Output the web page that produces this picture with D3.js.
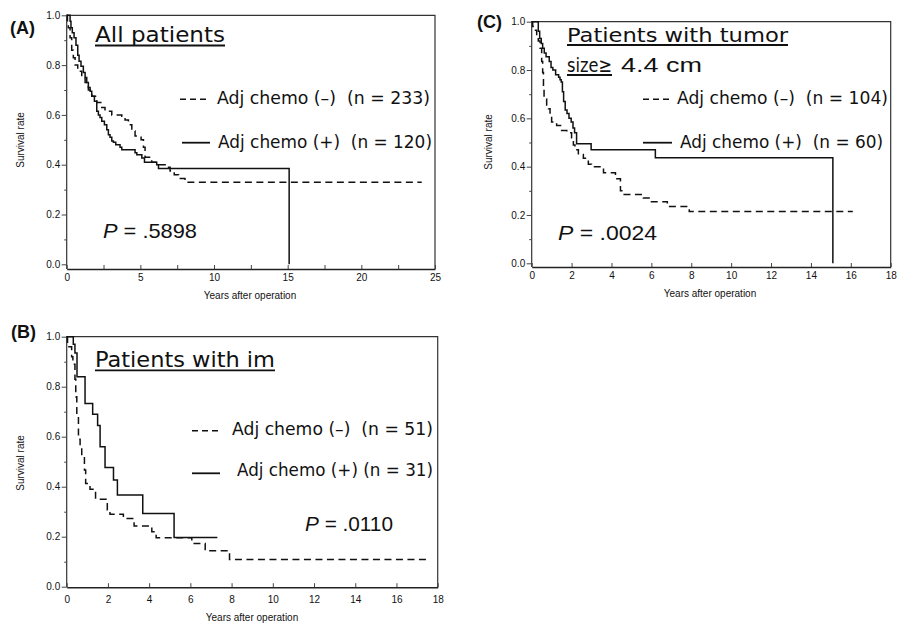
<!DOCTYPE html>
<html>
<head>
<meta charset="utf-8">
<script src="https://cdn.jsdelivr.net/npm/d3@7"></script>
<style>
  body { margin: 0; background: #fff; }
  text { font-family: "Liberation Sans", Arial, sans-serif; fill: #111; }
  .comic { font-family: "Comic Sans MS", "DejaVu Sans", sans-serif; }
</style>
</head>
<body>
<svg id="chart" width="904" height="623"></svg>
<script>
// ---- data (years, survival) ----
// (A) all patients
const aNegTime = [0, 0.05, 0.11, 0.23, 0.34, 0.45, 0.57, 0.75, 1.02, 1.25, 1.47, 1.7, 2.04, 2.38, 2.6, 3.06, 3.74, 3.96, 4.19, 4.42, 4.64, 5.05, 5.21, 5.32, 5.77, 6.23, 6.68, 7.02, 7.3, 7.6, 8.03, 24.1];
const aNegSurv = [1.0, 0.97, 0.95, 0.91, 0.86, 0.83, 0.80, 0.775, 0.75, 0.73, 0.70, 0.675, 0.65, 0.63, 0.615, 0.60, 0.595, 0.58, 0.56, 0.535, 0.515, 0.50, 0.47, 0.43, 0.41, 0.40, 0.39, 0.375, 0.36, 0.345, 0.33, 0.33];
const aPosTime = [0, 0.23, 0.29, 0.38, 0.5, 0.63, 0.75, 0.84, 0.97, 1.13, 1.25, 1.36, 1.47, 1.59, 1.7, 1.88, 2.04, 2.15, 2.26, 2.38, 2.56, 2.72, 2.83, 2.94, 3.06, 3.17, 3.33, 3.62, 3.74, 4.64, 4.76, 5.1, 5.28, 6.11, 6.23, 15.1];
const aPosSurv = [1.0, 0.976, 0.95, 0.93, 0.91, 0.88, 0.84, 0.815, 0.795, 0.77, 0.75, 0.73, 0.71, 0.695, 0.675, 0.655, 0.615, 0.60, 0.59, 0.575, 0.56, 0.54, 0.52, 0.51, 0.495, 0.49, 0.48, 0.47, 0.46, 0.448, 0.44, 0.427, 0.41, 0.40, 0.385, 0.0];

// (B) patients with im
const bNegTime = [0, 0.04, 0.24, 0.3, 0.4, 0.44, 0.49, 0.57, 0.65, 0.73, 0.86, 0.92, 1.13, 1.4, 1.97, 2.1, 2.75, 3.27, 4.13, 4.34, 6.07, 6.72, 7.9, 17.5];
const bNegSurv = [1.0, 0.96, 0.92, 0.89, 0.83, 0.76, 0.69, 0.59, 0.56, 0.52, 0.467, 0.413, 0.39, 0.35, 0.307, 0.29, 0.273, 0.243, 0.22, 0.196, 0.173, 0.144, 0.109, 0.109];
const bPosTime = [0, 0.32, 0.4, 0.5, 0.89, 1.26, 1.5, 1.62, 1.86, 2.27, 2.46, 3.69, 5.21, 7.31];
const bPosSurv = [1.0, 0.97, 0.935, 0.84, 0.733, 0.69, 0.645, 0.56, 0.477, 0.427, 0.367, 0.293, 0.197, 0.197];

// (C) tumor size >= 4.4 cm
const cNegTime = [0, 0.05, 0.12, 0.25, 0.33, 0.42, 0.5, 0.55, 0.59, 0.62, 0.75, 0.84, 0.92, 1.0, 1.25, 1.5, 1.76, 2.0, 2.09, 2.17, 2.34, 2.59, 2.84, 3.0, 3.6, 4.2, 4.45, 4.6, 5.6, 5.95, 6.8, 7.9, 16.1];
const cNegSurv = [1.0, 0.98, 0.965, 0.94, 0.92, 0.89, 0.835, 0.79, 0.72, 0.68, 0.655, 0.64, 0.615, 0.585, 0.57, 0.55, 0.54, 0.52, 0.49, 0.47, 0.45, 0.435, 0.41, 0.40, 0.375, 0.35, 0.30, 0.285, 0.27, 0.255, 0.235, 0.214, 0.214];
const cPosTime = [0, 0.33, 0.4, 0.48, 0.55, 0.63, 0.72, 0.88, 0.97, 1.06, 1.2, 1.35, 1.42, 1.48, 1.54, 1.6, 1.68, 1.77, 1.87, 1.98, 2.07, 2.15, 2.25, 2.98, 6.2, 15.1];
const cPosSurv = [1.0, 0.96, 0.93, 0.91, 0.89, 0.87, 0.855, 0.835, 0.81, 0.80, 0.78, 0.77, 0.76, 0.75, 0.71, 0.67, 0.635, 0.62, 0.60, 0.585, 0.56, 0.54, 0.495, 0.47, 0.437, 0.0];

// ticks
const yMajorTicks = [0, 0.2, 0.4, 0.6, 0.8, 1.0];
const yMinorTicks = [0.1, 0.3, 0.5, 0.7, 0.9];
const xTicksA = [0, 2.5, 5, 7.5, 10, 12.5, 15, 17.5, 20, 22.5, 25];
const xLabelsA = [0, 5, 10, 15, 20, 25];
const xTicks18 = [0, 2, 4, 6, 8, 10, 12, 14, 16, 18];

// text
const negLegend = ["Adj chemo (–)  (n = 233)", "Adj chemo (–)  (n = 51)", "Adj chemo (–)  (n = 104)"];
const posLegend = ["Adj chemo (+)  (n = 120)", "Adj chemo (+) (n = 31)", "Adj chemo (+)  (n = 60)"];
const pValues = [".5898", ".0110", ".0024"];

const svg = d3.select("#chart");

const panels = [
  { tag: "(A)", tagPos: [10, 34], negT: aNegTime, negS: aNegSurv, posT: aPosTime, posS: aPosSurv,
    left: 66.7, right: 435, top: 15.3, bottom: 264.3, axisY: 269, xMax: 25,
    xTicks: xTicksA, xLabels: xLabelsA, labelPad: 5, titleSize: 22,
    title: [{ t: "All patients", x: 95, y: 42, w: 130, u: 45.5 }],
    leg: { neg: negLegend[0], pos: posLegend[0], l1: [180, 210, 99.3], t1: [217, 104, 213], l2: [182, 210, 142.7], t2: [218, 148.3, 214] },
    p: { v: pValues[0], x: 103, y: 238, w: 94 }, yl: [20, 140], xl: [250, 298.5] },
  { tag: "(B)", tagPos: [11, 338], negT: bNegTime, negS: bNegSurv, posT: bPosTime, posS: bPosSurv,
    left: 66.7, right: 437.7, top: 336.7, bottom: 586.7, axisY: 587.2, xMax: 18,
    xTicks: xTicks18, xLabels: xTicks18, labelPad: 9, titleSize: 22,
    title: [{ t: "Patients with im", x: 95, y: 366.7, w: 180, u: 370.3 }],
    leg: { neg: negLegend[1], pos: posLegend[1], l1: [192, 220, 430.7], t1: [232, 435, 201], l2: [192, 220, 473.3], t2: [237, 475.7, 196] },
    p: { v: pValues[1], x: 305, y: 530.7, w: 88 }, yl: [20, 463], xl: [252, 621] },
  { tag: "(C)", tagPos: [477, 28], negT: cNegTime, negS: cNegSurv, posT: cPosTime, posS: cPosSurv,
    left: 531.7, right: 890.7, top: 21.7, bottom: 263.3, axisY: 267, xMax: 18,
    xTicks: xTicks18, xLabels: xTicks18, labelPad: 5, titleSize: 20,
    title: [{ t: "Patients with tumor", x: 567, y: 41.5, w: 221, u: 45 },
            { t: "size≥", x: 567, y: 71.7, w: 45, u: 75, extra: "4.4 cm", ex: 621, ew: 81 }],
    leg: { neg: negLegend[2], pos: posLegend[2], l1: [643, 672, 99.3], t1: [677, 104, 211], l2: [643, 672, 142.7], t2: [680, 148.3, 203] },
    p: { v: pValues[2], x: 558, y: 240, w: 99 }, yl: [488, 142], xl: [710, 296.5] }
];

panels.forEach(p => {
  const g = svg.append("g");
  const x = d3.scaleLinear().domain([0, p.xMax]).range([p.left, p.right]);
  const y = d3.scaleLinear().domain([0, 1]).range([p.bottom, p.top]);

  // frame
  g.append("path")
    .attr("d", `M${p.left},${p.axisY}V${p.top}H${p.right}V${p.axisY}`)
    .attr("fill", "none").attr("stroke", "#333").attr("stroke-width", 1.2);

  // y axis: labelled majors + short minors
  g.append("g").attr("transform", `translate(${p.left},0)`)
    .call(d3.axisLeft(y).tickValues(yMajorTicks).tickFormat(d3.format(".1f")).tickSize(5).tickSizeOuter(0).tickPadding(1.5))
    .call(a => a.select(".domain").remove())
    .call(a => a.selectAll("line").attr("stroke", "#444"))
    .call(a => a.selectAll("text").attr("font-size", 10).attr("font-family", "Liberation Sans, Arial, sans-serif"));
  g.append("g").attr("transform", `translate(${p.left},0)`)
    .call(d3.axisLeft(y).tickValues(yMinorTicks).tickFormat("").tickSize(2.5).tickSizeOuter(0))
    .call(a => a.select(".domain").remove())
    .call(a => a.selectAll("line").attr("stroke", "#444"));

  // x axis, ticks pointing up
  g.append("g").attr("transform", `translate(0,${p.axisY})`)
    .call(d3.axisBottom(x).tickValues(p.xTicks).tickFormat(d => p.xLabels.includes(d) ? d : "")
      .tickSize(-4).tickSizeOuter(0).tickPadding(p.labelPad))
    .call(a => a.select(".domain").attr("stroke", "#222").attr("stroke-width", 1.4))
    .call(a => a.selectAll("line").attr("stroke", "#444"))
    .call(a => a.selectAll("text").attr("font-size", 10).attr("font-family", "Liberation Sans, Arial, sans-serif"));

  // axis titles
  g.append("text").attr("transform", `translate(${p.yl[0]},${p.yl[1]}) rotate(-90)`)
    .attr("text-anchor", "middle").attr("dy", "0.35em").attr("font-size", 10).text("Survival rate");
  g.append("text").attr("x", p.xl[0]).attr("y", p.xl[1])
    .attr("text-anchor", "middle").attr("font-size", 10).text("Years after operation");

  // curves
  const line = d3.line().x(d => x(d[0])).y(d => y(d[1])).curve(d3.curveStepAfter);
  g.append("path").datum(d3.zip(p.negT, p.negS)).attr("d", line)
    .attr("fill", "none").attr("stroke", "#111").attr("stroke-width", 1.5).attr("stroke-dasharray", "7,4.5");
  g.append("path").datum(d3.zip(p.posT, p.posS)).attr("d", line)
    .attr("fill", "none").attr("stroke", "#111").attr("stroke-width", 1.5);

  // panel tag
  g.append("text").attr("x", p.tagPos[0]).attr("y", p.tagPos[1])
    .attr("font-size", 18).attr("font-weight", "bold").text(p.tag);

  // titles
  p.title.forEach(t => {
    g.append("text").attr("class", "comic").attr("x", t.x).attr("y", t.y)
      .attr("font-size", p.titleSize).attr("textLength", t.w).attr("lengthAdjust", "spacingAndGlyphs").text(t.t);
    g.append("line").attr("x1", t.x).attr("x2", t.x + t.w).attr("y1", t.u).attr("y2", t.u)
      .attr("stroke", "#111").attr("stroke-width", 1.8);
    if (t.extra) {
      g.append("text").attr("x", t.ex).attr("y", t.y)
        .attr("font-size", p.titleSize).attr("textLength", t.ew).attr("lengthAdjust", "spacingAndGlyphs").text(t.extra);
    }
  });

  // legend
  const L = p.leg;
  g.append("line").attr("x1", L.l1[0]).attr("x2", L.l1[1]).attr("y1", L.l1[2]).attr("y2", L.l1[2])
    .attr("stroke", "#111").attr("stroke-width", 1.4).attr("stroke-dasharray", "6,4");
  g.append("line").attr("x1", L.l2[0]).attr("x2", L.l2[1]).attr("y1", L.l2[2]).attr("y2", L.l2[2])
    .attr("stroke", "#111").attr("stroke-width", 1.8);
  [[L.neg, L.t1], [L.pos, L.t2]].forEach(([s, pos]) => {
    g.append("text").attr("class", "comic").attr("x", pos[0]).attr("y", pos[1])
      .attr("font-size", 17).style("white-space", "pre")
      .attr("textLength", pos[2]).attr("lengthAdjust", "spacingAndGlyphs").text(s);
  });

  // p value
  const pt = g.append("text").attr("x", p.p.x).attr("y", p.p.y).attr("font-size", 21)
    .style("white-space", "pre").attr("textLength", p.p.w).attr("lengthAdjust", "spacingAndGlyphs");
  pt.append("tspan").attr("font-style", "italic").text("P");
  pt.append("tspan").text(" = " + p.p.v);
});
</script>
</body>
</html>
